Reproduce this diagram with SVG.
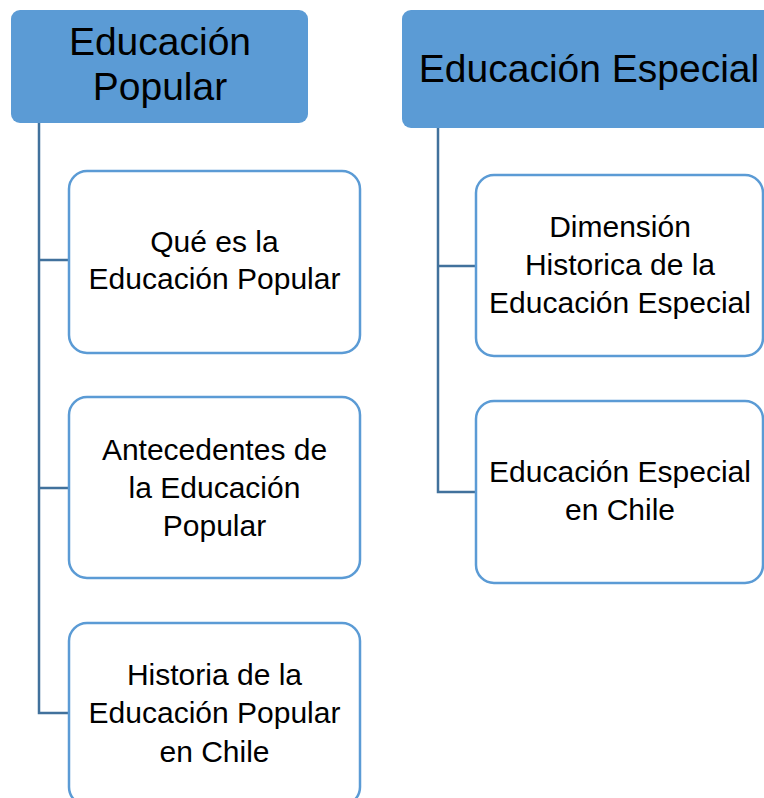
<svg xmlns="http://www.w3.org/2000/svg" width="764" height="798" viewBox="0 0 764 798">
<style>
.hdr{fill:#5B9BD5;stroke:none}
.box{fill:#ffffff;stroke:#5B9BD5;stroke-width:2.5}
.ln{fill:none;stroke:#41719C;stroke-width:2.5}
text{font-family:"Liberation Sans",Arial,sans-serif;fill:#000;text-anchor:middle}
.h{font-size:39px}
.t{font-size:30px}
</style>
<rect width="764" height="798" fill="#ffffff"/>
<g id="connectors">
<path class="ln" d="M39,123 V713 H69 M39,260 H69 M39,488 H69"/>
<path class="ln" d="M438,128 V492 H476 M438,266 H476"/>
</g>
<g id="hdr-popular">
<rect class="hdr" x="11" y="10" width="297" height="113" rx="9"/>
<text class="h" x="160" y="55">Educación</text>
<text class="h" x="160" y="100">Popular</text>
</g>
<g id="hdr-especial">
<rect class="hdr" x="402" y="10" width="380" height="118" rx="9"/>
<text class="h" x="589" y="82">Educación Especial</text>
</g>
<g id="p1">
<rect class="box" x="69" y="171" width="291" height="182" rx="18"/>
<text class="t" x="214.5" y="252">Qué es la</text>
<text class="t" x="214.5" y="289">Educación Popular</text>
</g>
<g id="p2">
<rect class="box" x="69" y="397" width="291" height="181" rx="18"/>
<text class="t" x="214.5" y="460">Antecedentes de</text>
<text class="t" x="214.5" y="498">la Educación</text>
<text class="t" x="214.5" y="536">Popular</text>
</g>
<g id="p3">
<rect class="box" x="69" y="623" width="291" height="182" rx="18"/>
<text class="t" x="214.5" y="685">Historia de la</text>
<text class="t" x="214.5" y="723">Educación Popular</text>
<text class="t" x="214.5" y="762">en Chile</text>
</g>
<g id="e1">
<rect class="box" x="476" y="175" width="287" height="181" rx="18"/>
<text class="t" x="620" y="237">Dimensión</text>
<text class="t" x="620" y="275">Historica de la</text>
<text class="t" x="620" y="313">Educación Especial</text>
</g>
<g id="e2">
<rect class="box" x="476" y="401" width="287" height="182" rx="18"/>
<text class="t" x="620" y="482">Educación Especial</text>
<text class="t" x="620" y="520">en Chile</text>
</g>
</svg>
